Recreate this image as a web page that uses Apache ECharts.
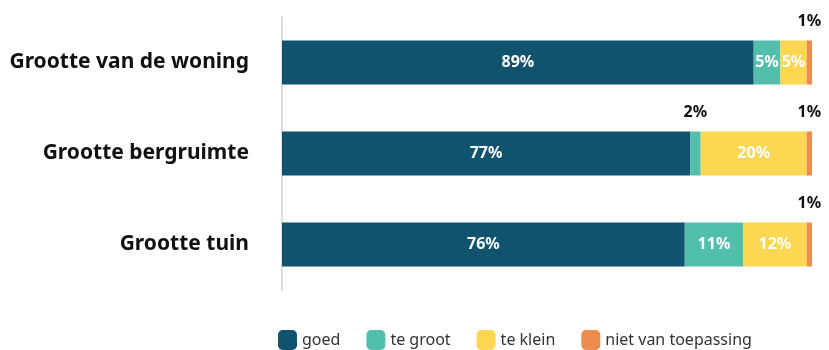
<!DOCTYPE html>
<html><head><meta charset="utf-8">
<script src="https://cdn.jsdelivr.net/npm/echarts@6/dist/echarts.min.js"></script>
<style>html,body{margin:0;padding:0;background:#fff}#c{width:829px;height:350px}</style>
</head><body><div id="c"></div>
<script>
const categories = ['Grootte van de woning', 'Grootte bergruimte', 'Grootte tuin'];
const seriesNames = ['goed', 'te groot', 'te klein', 'niet van toepassing'];
const goed = [89, 77, 76];
const teGroot = [5, 2, 11];
const teKlein = [5, 20, 12];
const nietVanToepassing = [1, 1, 1];
const colors = ['#11526f', '#52bfad', '#fdd652', '#ec8c4f'];
const font = '"Noto Sans", sans-serif';

const allData = [goed, teGroot, teKlein, nietVanToepassing];
const series = allData.map((arr, si) => ({
  name: seriesNames[si],
  type: 'bar',
  stack: 'total',
  barWidth: 44,
  itemStyle: { color: colors[si] },
  data: arr.map(v => {
    const small = v <= 2;
    return {
      value: v,
      label: small ? {
        show: true, position: 'top', distance: 11, color: '#111',
        fontWeight: 'bold', fontSize: 16, fontFamily: font, formatter: '{c}%'
      } : {
        show: true, position: 'inside', color: '#fff',
        fontWeight: 'bold', fontSize: 16, fontFamily: font, formatter: '{c}%'
      }
    };
  })
}));

const chart = echarts.init(document.getElementById('c'), null, { renderer: 'canvas' });
chart.setOption({
  animation: false,
  grid: { left: 282, right: 17, top: 17, bottom: 60, containLabel: false },
  legend: {
    left: 273, top: 325, itemWidth: 19, itemHeight: 20, itemGap: 26,
    icon: 'roundRect',
    textStyle: { fontSize: 16, color: '#333', fontFamily: font, padding: [3, 0, 0, 0] },
    data: seriesNames
  },
  xAxis: { type: 'value', min: 0, max: 100, show: false },
  yAxis: {
    type: 'category', data: categories, inverse: true,
    axisLine: { show: true, lineStyle: { color: '#ddd', width: 2 } },
    axisTick: { show: false },
    axisLabel: { margin: 33, color: '#111', fontWeight: 'bold', fontSize: 21, fontFamily: font }
  },
  series: series
});
</script></body></html>
